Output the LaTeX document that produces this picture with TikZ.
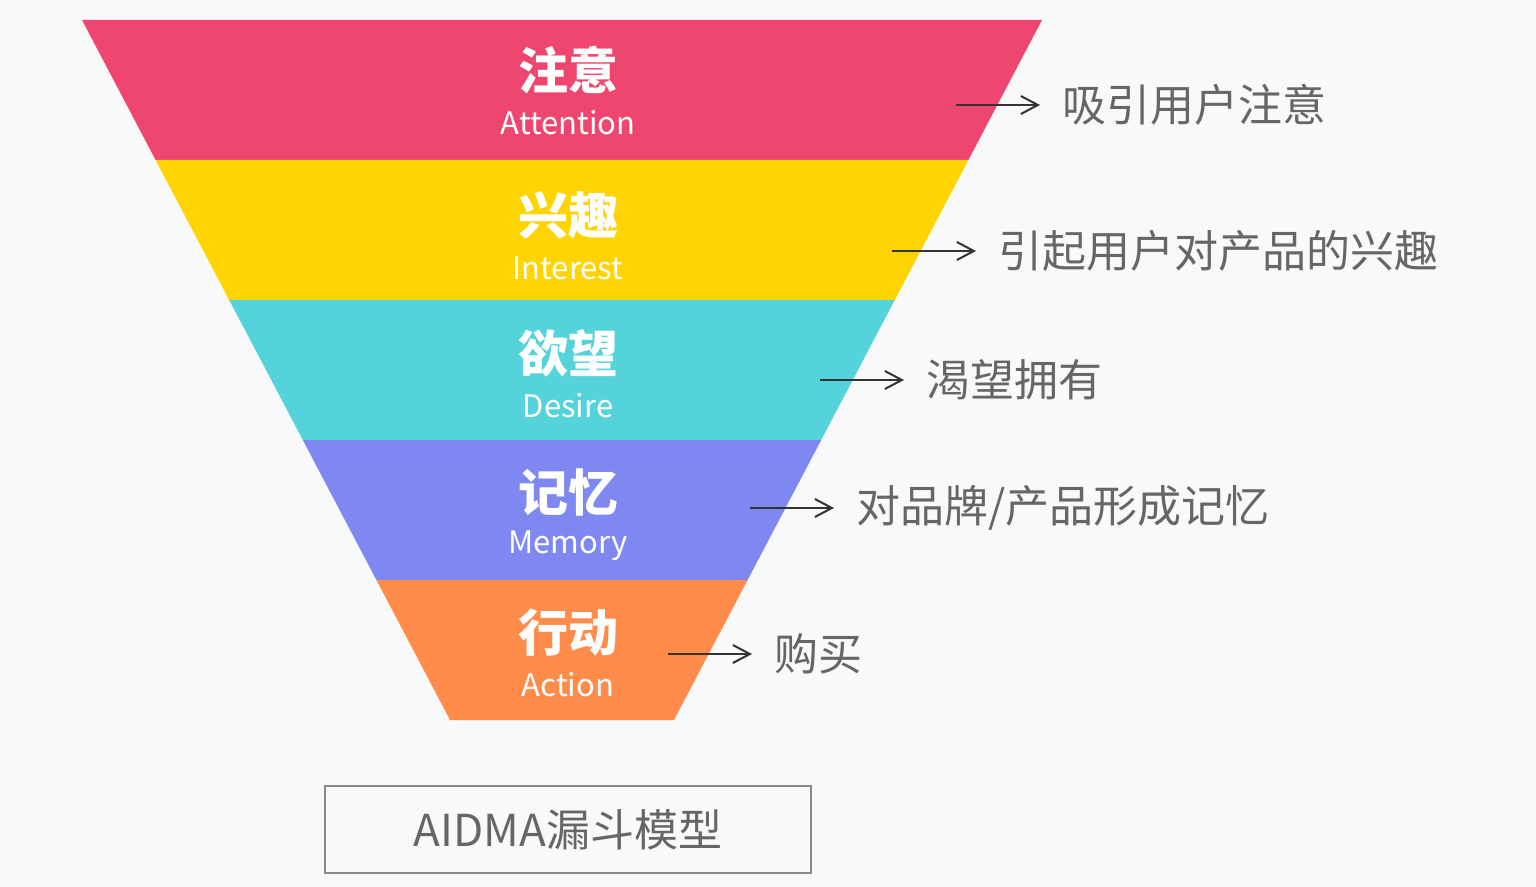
\documentclass[tikz,border=0pt]{standalone}
\usepackage{fontspec}
\setmainfont{Noto Sans CJK SC}
\newfontfamily\cjk{Noto Sans CJK SC}
\usetikzlibrary{arrows.meta}
\definecolor{bg}{HTML}{F8F9FB}
\definecolor{cA}{HTML}{EE466E}
\definecolor{cI}{HTML}{FFD400}
\definecolor{cD}{HTML}{55D3DA}
\definecolor{cM}{HTML}{7F88F0}
\definecolor{cAc}{HTML}{FF8C4A}
\definecolor{lbl}{HTML}{666666}
\definecolor{arrc}{HTML}{333333}
\definecolor{boxc}{HTML}{8A8A8A}
\tikzset{
  zh/.style={font=\cjk\bfseries\fontsize{25pt}{28pt}\selectfont, text=white, inner sep=0pt},
  en/.style={font=\cjk\fontsize{15.5pt}{18pt}\selectfont, text=white, inner sep=0pt},
  lab/.style={font=\cjk\fontsize{22pt}{25pt}\selectfont, text=lbl, anchor=west, inner xsep=11pt, inner ysep=0pt},
  arr/.style={draw=arrc, line width=1pt, -{Straight Barb[length=8.5pt,width=9pt,line width=1pt]}},
  titlebox/.style={draw=boxc, line width=1pt, minimum width=243pt, minimum height=43.5pt, font=\cjk\fontsize{22pt}{25pt}\selectfont, text=lbl}
}
\begin{document}
\begin{tikzpicture}[x=0.5pt,y=-0.5pt]
\fill[bg] (0,0) rectangle (1536,887);
\useasboundingbox (0,0) rectangle (1536,887);
% bands
\fill[cA] (82,20) -- (1042,20) -- (968.4,160) -- (155.6,160) -- cycle;
\fill[cI] (155.6,160) -- (968.4,160) -- (894.8,300) -- (229.2,300) -- cycle;
\fill[cD] (229.2,300) -- (894.8,300) -- (821.2,440) -- (302.8,440) -- cycle;
\fill[cM] (302.8,440) -- (821.2,440) -- (747.6,580) -- (376.4,580) -- cycle;
\fill[cAc] (376.4,580) -- (747.6,580) -- (674,720) -- (450,720) -- cycle;
% band texts
\node[zh] (z1) at (568,70) {注意};
\node[en] (e1) at (568,123) {Attention};
\node[zh] (z2) at (568,215) {兴趣};
\node[en] (e2) at (568,268) {Interest};
\node[zh] (z3) at (568,353) {欲望};
\node[en] (e3) at (568,406) {Desire};
\node[zh] (z4) at (568,492) {记忆};
\node[en] (e4) at (568,546) {Memory};
\node[zh] (z5) at (568,632) {行动};
\node[en] (e5) at (568,685) {Action};
% arrows and labels
\coordinate (s1) at (956,105);
\coordinate (s2) at (892,251);
\coordinate (s3) at (820,380);
\coordinate (s4) at (750,508);
\coordinate (s5) at (668,654);
\node[lab] (l1) at (1040,105) {吸引用户注意};
\node[lab] (l2) at (976,251) {引起用户对产品的兴趣};
\node[lab] (l3) at (904,380) {渴望拥有};
\node[lab] (l4) at (834,508) {对品牌/产品形成记忆};
\node[lab] (l5) at (752,654) {购买};
\draw[arr] (s1) -- (l1.west);
\draw[arr] (s2) -- (l2.west);
\draw[arr] (s3) -- (l3.west);
\draw[arr] (s4) -- (l4.west);
\draw[arr] (s5) -- (l5.west);
% title box
\node[titlebox] (t) at (568,829.5) {AIDMA漏斗模型};
\end{tikzpicture}
\end{document}
